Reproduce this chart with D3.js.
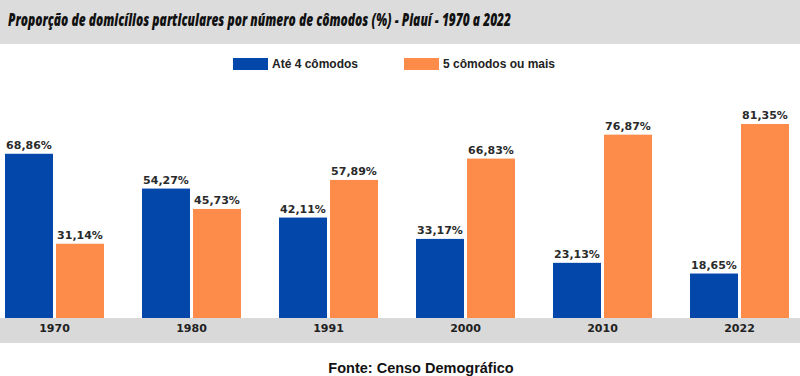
<!DOCTYPE html>
<html><head><meta charset="utf-8">
<script src="https://cdn.jsdelivr.net/npm/d3@7"></script>
<style>body{margin:0;background:#fff}svg{display:block}</style>
</head><body>
<svg id="c" width="800" height="376"></svg>
<script>
const years = ["1970","1980","1991","2000","2010","2022"];
const seriesNames = ["Até 4 cômodos","5 cômodos ou mais"];
const ate4 = [68.86,54.27,42.11,33.17,23.13,18.65];
const cinco = [31.14,45.73,57.89,66.83,76.87,81.35];
const colors = ["#0347aa","#fd8b49"];
const title = "Proporção de domicílios particulares por número de cômodos (%) - Piauí - 1970 a 2022";
const fonte = "Fonte: Censo Demográfico";

const svg = d3.select("#c");
const W = 800, H = 376;
const baseY = 318;

svg.append("rect").attr("x",0).attr("y",0).attr("width",W).attr("height",44).attr("fill","#dcdcdc");
svg.append("text").attr("x",8).attr("y",26)
  .attr("font-family","'Open Sans'").attr("font-style","italic").attr("font-weight",800)
  .attr("font-size",17.5).attr("textLength",503).attr("lengthAdjust","spacingAndGlyphs")
  .attr("fill","#111").text(title);

// legend
const legX = [233,404];
seriesNames.forEach((n,i)=>{
  svg.append("rect").attr("x",legX[i]).attr("y",58).attr("width",35).attr("height",12).attr("fill",colors[i]);
  svg.append("text").attr("x",legX[i]+39).attr("y",68).attr("font-family","'Liberation Sans', Arial").attr("font-weight","bold")
    .attr("font-size",12).attr("fill","#222").text(n);
});

const x0 = d3.scaleBand().domain(years).range([-14,808]).paddingInner(38/137).paddingOuter(19/137);
const x1 = d3.scaleBand().domain([0,1]).range([0,x0.bandwidth()]).paddingInner(2-99/51);
const y = d3.scaleLinear().domain([0,100]).range([baseY,baseY-238.5]);

// axis band
svg.append("rect").attr("x",0).attr("y",baseY).attr("width",W).attr("height",25).attr("fill","#d9d9d9");

const data = years.map((yr,i)=>({yr, vals:[ate4[i],cinco[i]]}));
const g = svg.selectAll("g.grp").data(data).join("g").attr("class","grp")
  .attr("transform",d=>`translate(${x0(d.yr)},0)`);
g.selectAll("rect").data(d=>d.vals.map((v,k)=>({v,k}))).join("rect")
  .attr("x",d=>x1(d.k)).attr("width",x1.bandwidth())
  .attr("y",d=>y(d.v)).attr("height",d=>baseY-y(d.v)).attr("fill",d=>colors[d.k]);
g.selectAll("text").data(d=>d.vals.map((v,k)=>({v,k}))).join("text")
  .attr("x",d=>x1(d.k)+x1.bandwidth()/2).attr("y",d=>y(d.v)-5)
  .attr("text-anchor","middle").attr("font-family","'DejaVu Sans'").attr("font-weight","bold")
  .attr("font-size",11).attr("fill","#2a2a2a")
  .text(d=>d.v.toFixed(2).replace(".",",")+"%");

const axis = d3.axisBottom(x0).tickSize(0).tickPadding(0);
const ax = svg.append("g").attr("transform",`translate(0,${baseY+6})`).call(axis);
ax.select(".domain").remove();
ax.selectAll("text").attr("font-family","'DejaVu Sans'").attr("font-weight","bold").attr("font-size",11)
  .attr("fill","#222").attr("dy","0.71em");

svg.append("text").attr("x",421).attr("y",373).attr("text-anchor","middle")
  .attr("font-family","'Liberation Sans', Arial").attr("font-weight","bold").attr("font-size",14.5)
  .attr("fill","#111").text(fonte);
</script>
</body></html>
